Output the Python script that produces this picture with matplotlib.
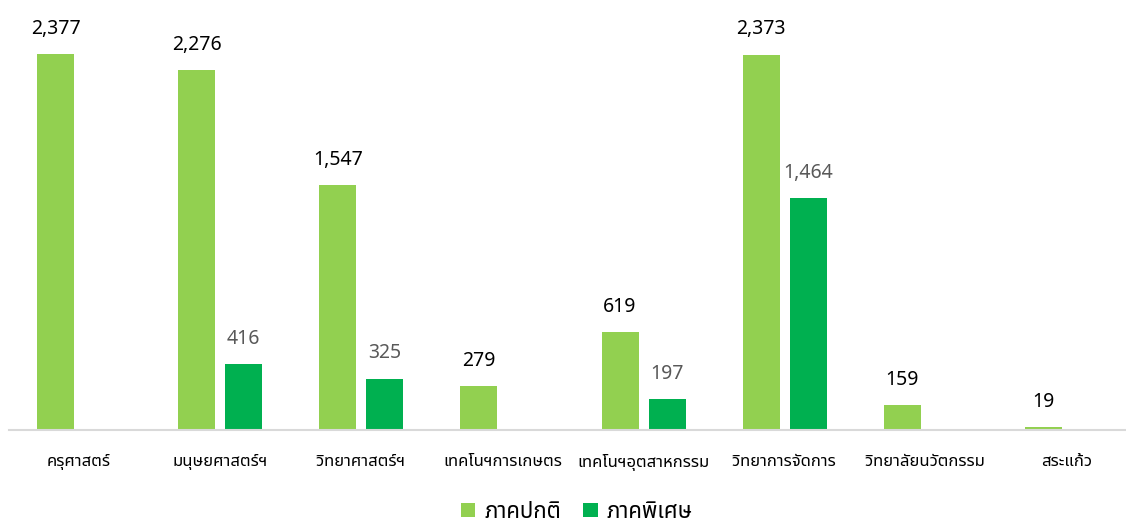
import matplotlib
matplotlib.use("Agg")
import matplotlib.pyplot as plt
from matplotlib import font_manager
from matplotlib.ft2font import FT2Font
import numpy as np

# Data
categories = ["ครุศาสตร์", "มนุษยศาสตร์ฯ", "วิทยาศาสตร์ฯ", "เทคโนฯการเกษตร",
              "เทคโนฯอุตสาหกรรม", "วิทยาการจัดการ", "วิทยาลัยนวัตกรรม", "สระแก้ว"]
normal = [2377, 2276, 1547, 279, 619, 2373, 159, 19]
special = [0, 416, 325, 0, 197, 1464, 0, 0]
series_names = ["ภาคปกติ", "ภาคพิเศษ"]
colors = ["#92D050", "#00B050"]


# Find an installed font that can draw Thai
def find_thai_font():
    found = []
    for f in font_manager.fontManager.ttflist:
        try:
            ft = FT2Font(f.fname)
            if ft.get_char_index(ord("ก")) and ft.get_char_index(ord("2")):
                found.append(f.name)
        except Exception:
            pass
    prefer = ["Leelawadee UI", "Leelawadee", "Tahoma", "Noto Sans Thai UI", "Noto Sans Thai",
              "Sarabun", "Loma", "Garuda", "Waree", "Umpush", "Norasi"]
    for p in prefer:
        if p in found:
            return p
    return found[0] if found else "DejaVu Sans"


thai_font = find_thai_font()
plt.rcParams["font.family"] = [thai_font, "DejaVu Sans"]

fig = plt.figure(figsize=(11.26, 5.27), dpi=100)
ax = fig.add_axes([8.5 / 1126, 97 / 527, 1129 / 1126, 395.5 / 527])

x = np.arange(len(categories))
w = 0.262
off = 0.1666
ax.bar(x - off, normal, w, color=colors[0], label=series_names[0])
ax.bar(x + off, special, w, color=colors[1], label=series_names[1])

for i in range(len(categories)):
    if normal[i] > 0:
        ax.annotate(f"{normal[i]:,}", (x[i] - off, normal[i]), xytext=(0, 14.5),
                    textcoords="offset points", ha="center", va="baseline",
                    fontsize=14, color="#000000")
    if special[i] > 0:
        ax.annotate(f"{special[i]:,}", (x[i] + off, special[i]), xytext=(0, 14.5),
                    textcoords="offset points", ha="center", va="baseline",
                    fontsize=14, color="#595959")

ax.set_xlim(-0.5, len(categories) - 0.5)
ax.set_ylim(0, 2500)
ax.set_xticks(x)
ax.set_xticklabels(categories, fontsize=12)
ax.tick_params(axis="x", length=0, pad=17)
ax.set_yticks([])
for s in ["top", "right", "left"]:
    ax.spines[s].set_visible(False)
ax.spines["bottom"].set_color("#d9d9d9")
ax.spines["bottom"].set_linewidth(1.5)

fig.legend(loc="lower center", bbox_to_anchor=(0.512, -0.03), ncol=2, frameon=False,
           fontsize=16, handlelength=0.65, handleheight=0.65, handletextpad=0.4,
           columnspacing=1.0)

fig.savefig("out.png", dpi=100)
